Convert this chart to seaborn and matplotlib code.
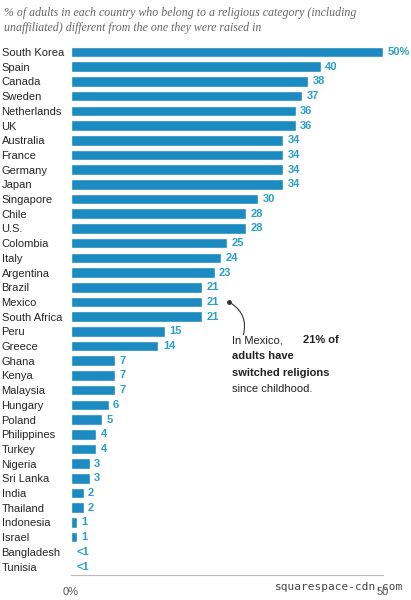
import numpy as np
import pandas as pd
import seaborn as sns
import matplotlib.pyplot as plt

countries = ["South Korea", "Spain", "Canada", "Sweden", "Netherlands", "UK", "Australia",
             "France", "Germany", "Japan", "Singapore", "Chile", "U.S.", "Colombia", "Italy",
             "Argentina", "Brazil", "Mexico", "South Africa", "Peru", "Greece", "Ghana", "Kenya",
             "Malaysia", "Hungary", "Poland", "Philippines", "Turkey", "Nigeria", "Sri Lanka",
             "India", "Thailand", "Indonesia", "Israel", "Bangladesh", "Tunisia"]
values = [50, 40, 38, 37, 36, 36, 34, 34, 34, 34, 30, 28, 28, 25, 24, 23, 21, 21, 21,
          15, 14, 7, 7, 7, 6, 5, 4, 4, 3, 3, 2, 2, 1, 1, 0.15, 0.15]
labels = ["50%"] + [str(v) for v in values[1:-2]] + ["<1", "<1"]

BAR = "#1b8bc1"
LBL = "#2a9fc9"

df = pd.DataFrame({"country": countries, "value": values})

sns.set_style("white")
plt.rcParams['font.family'] = ['Liberation Sans', 'DejaVu Sans']

fig = plt.figure(figsize=(4.11, 6.0), dpi=100)
ax = fig.add_axes([0.173, 0.041, 0.759, 0.887])
sns.barplot(data=df, x="value", y="country", color=BAR, width=0.72, ax=ax, saturation=1)

for i, (v, t) in enumerate(zip(values, labels)):
    ax.text(v + 0.7, i, t, va="center", ha="left", fontsize=8, color=LBL, fontweight="bold")

ax.set_xlim(0, 50)
ax.set_ylim(35.6, -0.6)
ax.set_xlabel("")
ax.set_ylabel("")
ax.set_xticks([0, 50])
ax.set_xticklabels(["0%", "50"], fontsize=8, color="#555555")
ax.tick_params(axis="y", length=0, pad=0, labelsize=8)
ax.tick_params(axis="x", length=0, pad=8)
for lbl in ax.get_yticklabels():
    lbl.set_horizontalalignment("left")
    lbl.set_transform(ax.get_yaxis_transform())
    lbl.set_x(-0.223)
for s in ["top", "right", "left"]:
    ax.spines[s].set_visible(False)
ax.spines["bottom"].set_color("#bbbbbb")

fig.text(0.01, 0.988, "% of adults in each country who belong to a religious category (including\n"
         "unaffiliated) different from the one they were raised in",
         ha="left", va="top", fontsize=8.6, style="italic", color="#666666",
         family=["Liberation Serif", "DejaVu Serif"], linespacing=1.3)

# annotation for Mexico
ax.plot([25.3], [17], marker="o", color="#333333", markersize=2.5)
ax.annotate("", xy=(25.3, 17), xytext=(27.5, 19.4),
            arrowprops=dict(arrowstyle="-", color="#333333", lw=0.8,
                            connectionstyle="arc3,rad=0.4"))
ax.text(25.8, 19.6, "In Mexico, ", ha="left", va="center", fontsize=8, color="#222222")
ax.text(37.2, 19.6, "21% of", ha="left", va="center", fontsize=8, color="#222222", fontweight="bold")
ax.text(25.8, 20.7, "adults have", ha="left", va="center", fontsize=8, color="#222222", fontweight="bold")
ax.text(25.8, 21.8, "switched religions", ha="left", va="center", fontsize=8, color="#222222", fontweight="bold")
ax.text(25.8, 22.9, "since childhood.", ha="left", va="center", fontsize=8, color="#222222")

fig.text(0.98, 0.022, "squarespace-cdn.com", ha="right", va="center", fontsize=8, color="#444444",
         family="DejaVu Sans Mono")

fig.savefig("out.png", dpi=100)
